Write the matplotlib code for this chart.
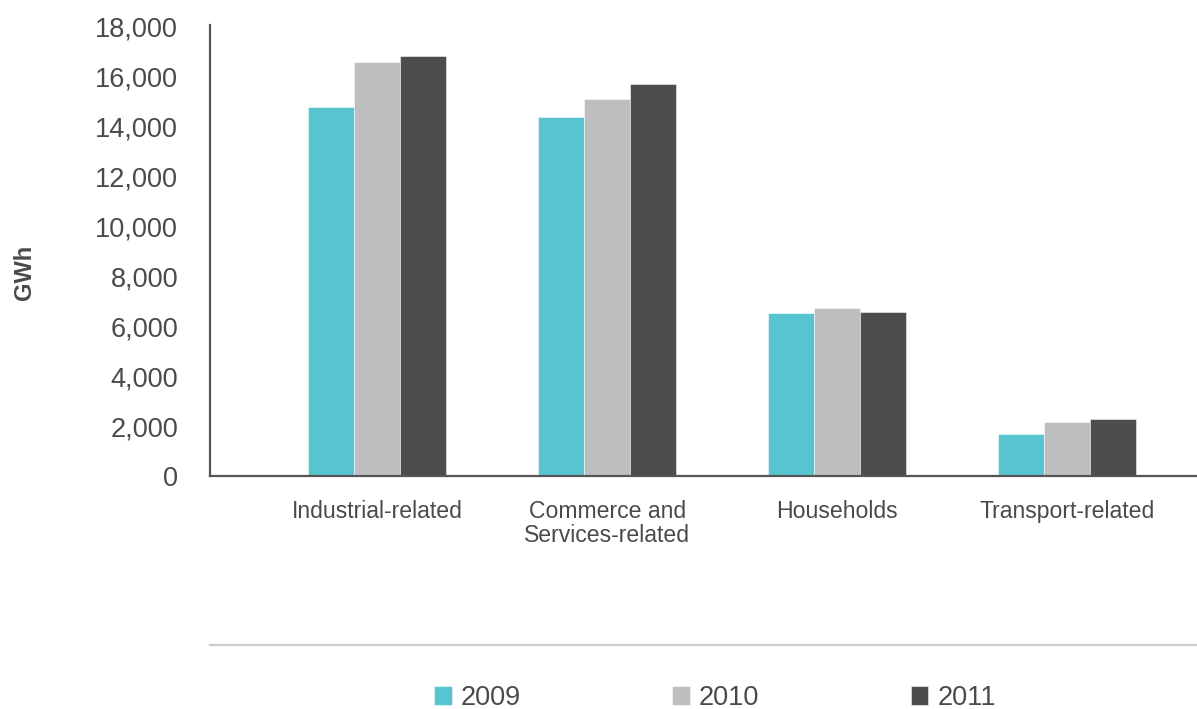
import matplotlib
matplotlib.use("Agg")
import matplotlib.pyplot as plt
from matplotlib.lines import Line2D
from matplotlib.ticker import FuncFormatter
import numpy as np

plt.rcParams['font.family'] = ['Liberation Sans', 'DejaVu Sans']

categories = ["Industrial-related", "Commerce and\nServices-related", "Households", "Transport-related"]
years = ["2009", "2010", "2011"]
values_2009 = [14800, 14400, 6530, 1700]
values_2010 = [16600, 15120, 6750, 2180]
values_2011 = [16820, 15720, 6570, 2280]
series = [values_2009, values_2010, values_2011]
colors = ["#56C5D0", "#BDBEC0", "#4D4D4F"]
yticks = [0, 2000, 4000, 6000, 8000, 10000, 12000, 14000, 16000, 18000]

text_color = "#4a4a4a"

fig = plt.figure(figsize=(11.97, 7.09), dpi=100)
ax = fig.add_axes([210/1197, 1-476/709, 1-210/1197, (476-25)/709])

x = np.arange(len(categories))
w = 0.2
for i, (vals, c, yr) in enumerate(zip(series, colors, years)):
    ax.bar(x + (i-1)*w, vals, width=w, color=c, label=yr, edgecolor=(1, 1, 1, 0.6), linewidth=0.6)

ax.set_xlim(-0.726, 3.563)
ax.set_ylim(0, 18080)
ax.set_yticks(yticks)
ax.yaxis.set_major_formatter(FuncFormatter(lambda v, p: f"{int(v):,}"))
ax.set_xticks(x)
ax.set_xticklabels(categories, fontsize=16.6, color=text_color, linespacing=1.05)
ax.tick_params(axis='y', length=0, pad=23, labelsize=19.5, labelcolor=text_color)
ax.tick_params(axis='x', length=0, pad=17)
for s in ['top', 'right']:
    ax.spines[s].set_visible(False)
for s in ['left', 'bottom']:
    ax.spines[s].set_color("#555555")
    ax.spines[s].set_linewidth(1.6)

fig.text(24/1197, 1-272/709, "GWh", rotation=90, fontsize=17, fontweight='bold',
         color=text_color, ha='center', va='center')

fig.add_artist(Line2D([210/1197, 1.0], [1-645/709, 1-645/709], color="#cccccc", linewidth=1.6,
                      transform=fig.transFigure))

handles, labels = ax.get_legend_handles_labels()
leg = fig.legend(handles, labels, loc='center', bbox_to_anchor=(715/1197, 1-698/709), ncol=3,
                 frameon=False, fontsize=19.5, handlelength=0.65, handleheight=0.65,
                 handletextpad=0.33, columnspacing=5.6, labelcolor=text_color)

fig.savefig("out.png", dpi=100)
